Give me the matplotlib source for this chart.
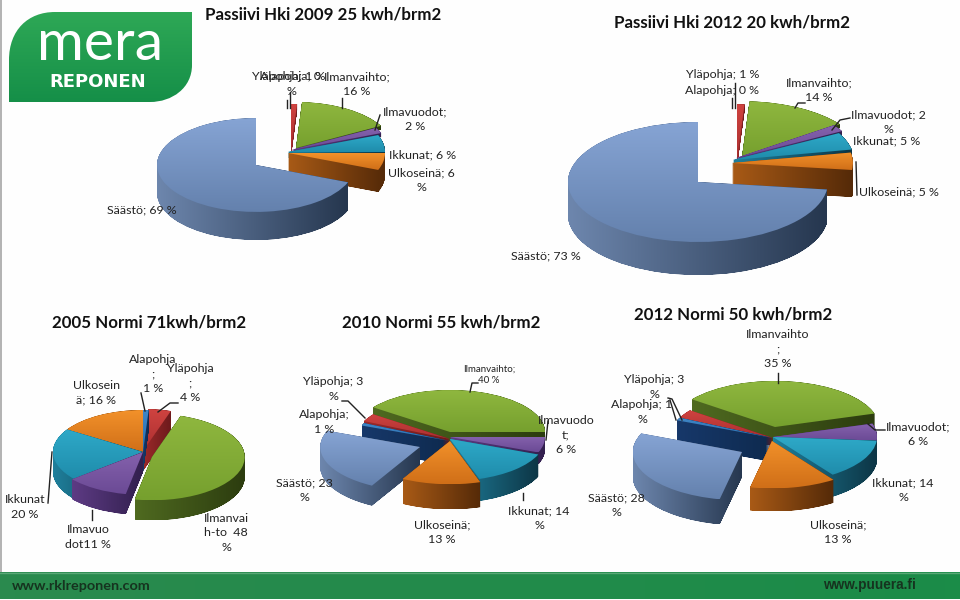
import math
import numpy as np
import matplotlib
matplotlib.use("Agg")
import matplotlib.pyplot as plt
from matplotlib.path import Path
from matplotlib.patches import PathPatch, Rectangle
from matplotlib.colors import to_rgb
from matplotlib.transforms import Affine2D

plt.rcParams['font.family'] = ['Lato', 'DejaVu Sans']

# ---------- data ----------
values_2009 = [1, 0, 16, 2, 6, 6, 69]
values_2012p = [1, 0, 14, 2, 5, 5, 73]
values_2005 = [1, 4, 48, 11, 20, 16]
values_2010 = [3, 1, 40, 6, 14, 13, 23]
values_2012n = [3, 1, 35, 6, 14, 13, 28]
keys_2009 = ['yla', 'ala', 'ilma', 'vuo', 'ikk', 'ulko', 'saa']
keys_2005 = ['ala', 'yla', 'ilma', 'vuo', 'ikk', 'ulko']
keys_2010_order_cw = ['ala', 'yla', 'ilma', 'vuo', 'ikk', 'ulko', 'saa']

# ---------- styles: (top light, top dark, side light, side dark) ----------
STYLE = {
    'saa':  ('#86a4d4', '#6481ad', '#6d86ad', '#26374f'),
    'yla':  ('#cf4340', '#ab2f30', '#9c2a2a', '#6d1a1c'),
    'ala':  ('#3f86c6', '#2d6fb0', '#17386a', '#0e2a4e'),
    'ilma': ('#8fb73f', '#76a02e', '#4f6a20', '#2c3c0f'),
    'vuo':  ('#8562ad', '#6b4a95', '#5d3b84', '#33204f'),
    'ikk':  ('#2ea9c8', '#1f8cab', '#1f7f9b', '#0d3646'),
    'ulko': ('#f2912a', '#d06f18', '#a85a16', '#552a08'),
}

W, H = 960, 600
fig = plt.figure(figsize=(W / 100, H / 100), dpi=100, facecolor='#fefefe')

# ---------- background layer in pixel coordinates ----------
bg = fig.add_axes([0, 0, 1, 1], zorder=0)
bg.set_xlim(0, W); bg.set_ylim(H, 0); bg.axis('off')


def grad(c0, c1, vertical=True, n=64):
    a, b = np.array(to_rgb(c0)), np.array(to_rgb(c1))
    t = np.linspace(0, 1, n)[:, None]
    arr = a * (1 - t) + b * t
    return arr[:, None, :] if vertical else arr[None, :, :]


bg.add_patch(Rectangle((0, 0), 1.6, 572, fc='#b4b4b4', ec='none'))
# footer band
bg.imshow(grad('#2a8a4e', '#1b8c48', vertical=False), extent=[0, W, 599, 572], aspect='auto', zorder=1)
bg.plot([0, W], [572.5, 572.5], color='#5aa877', lw=1, zorder=2)
# logo
verts = [(9, 102), (9, 60), (9, 30), (28, 12), (55, 12), (192, 12), (192, 65),
         (192, 88), (172, 102), (150, 102), (9, 102)]
codes = [Path.MOVETO, Path.LINETO, Path.CURVE4, Path.CURVE4, Path.CURVE4, Path.LINETO,
         Path.LINETO, Path.CURVE4, Path.CURVE4, Path.CURVE4, Path.CLOSEPOLY]
logo = PathPatch(Path(verts, codes), fc='none', ec='none', transform=bg.transData)
bg.add_patch(logo)
im = bg.imshow(grad('#2ea856', '#158f48'), extent=[9, 192, 102, 12], aspect='auto', zorder=2)
im.set_clip_path(logo)
bg.set_xlim(0, W); bg.set_ylim(H, 0)


# ---------- pies ----------
def pie3d(values, keys, first_cw, cx, cy, rx, ry, layout):
    """layout: key -> (wedge x px, wedge y px, scale, depth px)"""
    ax = fig.add_axes([0, 0, 1, 1], zorder=1)
    total = sum(values)
    cum = 0
    items = []
    for i, (v, k) in enumerate(zip(values, keys)):
        mid = first_cw + (cum + v / 2) / total * 360
        cum += v
        if v == 0:
            continue
        wx, wy, sc, dp = layout[k]
        items.append((wy + ry * sc * -math.cos(math.radians(mid)), i, k, wx, wy, sc, dp))
    items.sort()
    z = 2
    for _, i, k, wx, wy, sc, dp in items:
        center = ((wx - cx) / rx, (cy - wy) / ry)
        cols = ['none'] * len(values)
        cols[i] = STYLE[k][0]
        wedges, _t = ax.pie(values, colors=cols, startangle=90 - first_cw, counterclock=False,
                            center=center, radius=sc, wedgeprops={'linewidth': 0}, labels=None)
        for j, w in enumerate(wedges):
            if j != i:
                w.remove()
        top = wedges[i]
        top.set_visible(False)
        p = top.get_path()
        bb = p.get_extents()
        layers = [p.transformed(Affine2D().translate(0, -d / ry)) for d in np.arange(0, dp + 0.25, 0.25)]
        side = Path.make_compound_path(*layers)
        sb = side.get_extents()
        tl, td, sl, sd = STYLE[k]
        s = ax.imshow(grad(sl, sd, vertical=False), extent=[sb.x0, sb.x1, sb.y0, sb.y1],
                      aspect='auto', zorder=z, interpolation='bilinear')
        s.set_clip_path(side, transform=ax.transData)
        t = ax.imshow(grad(tl, td), extent=[bb.x0, bb.x1, bb.y0, bb.y1],
                      aspect='auto', zorder=z + 1, interpolation='bilinear')
        t.set_clip_path(p, transform=ax.transData)
        z += 2
    ax.set_aspect('auto')
    ax.set_xlim(-cx / rx, (W - cx) / rx)
    ax.set_ylim((cy - H) / ry, cy / ry)
    ax.set_position([0, 0, 1, 1])
    ax.axis('off')


pie3d(values_2009, keys_2009, 0, 256, 165, 97, 46, {
    'saa': (256, 165, 1.02, 28), 'ulko': (288, 153, 1, 22), 'ikk': (288, 152, 1, 6),
    'vuo': (291, 150, 1, 4), 'ilma': (296, 148, 1, 4), 'yla': (291, 150, 1, 6), 'ala': (291, 150, 1, 4)})
pie3d(values_2012p, keys_2009, 0, 698, 182, 130, 60, {
    'saa': (698, 182, 1, 33), 'ulko': (732, 163, 0.93, 27), 'ikk': (733, 160, 0.93, 6),
    'vuo': (736, 158, 0.93, 4), 'ilma': (742, 157, 0.93, 4), 'yla': (737, 160, 0.93, 6), 'ala': (737, 160, 0.93, 4)})
pie3d(values_2005, keys_2005, 0, 143, 452, 90, 42, {
    'ala': (143, 452, 1, 20), 'yla': (143, 451, 1, 20), 'ilma': (152, 457, 1.03, 20),
    'vuo': (143, 452, 1.02, 20), 'ikk': (143, 452, 1, 20), 'ulko': (143, 452, 1, 20)})
# 2010 / 2012 start at the blue/red pair and run clockwise
pie3d([values_2010[1], values_2010[0]] + values_2010[2:], keys_2010_order_cw, -68.4, 450, 441, 95, 42, {
    'yla': (450, 439, 1, 8), 'ala': (450, 441, 1, 24), 'ilma': (450, 432, 1, 20),
    'vuo': (450, 437, 1, 12), 'ikk': (450, 439, 1, 22), 'ulko': (450, 441, 1.03, 25), 'saa': (420, 447, 1.05, 20)})
pie3d([values_2012n[1], values_2012n[0]] + values_2012n[2:], keys_2010_order_cw, -67.4, 773, 437, 104, 46, {
    'yla': (773, 438, 1, 8), 'ala': (773, 438, 1, 24), 'ilma': (775, 427, 1, 20),
    'vuo': (773, 437, 1, 12), 'ikk': (773, 437, 1, 22), 'ulko': (772, 441, 1.03, 23), 'saa': (742, 452, 1.05, 25)})

# ---------- text layer ----------
ov = fig.add_axes([0, 0, 1, 1], zorder=5)
ov.set_xlim(0, W); ov.set_ylim(H, 0); ov.axis('off')

TXT = '#222222'
LBL = 8.9


def label(x, y, s, size=LBL):
    ov.text(x, y, s, ha='center', va='center', multialignment='center', fontsize=size,
            color=TXT, linespacing=1.35)


def title(x, y, s):
    ov.text(x, y, s, ha='center', va='center', fontsize=12.2, fontweight='bold', color='#111111')


title(323, 15, 'Passiivi Hki 2009 25 kwh/brm2')
title(732, 22, 'Passiivi Hki 2012 20 kwh/brm2')
title(149, 322, '2005 Normi 71kwh/brm2')
title(441, 322, '2010 Normi 55 kwh/brm2')
title(733, 314, '2012 Normi 50 kwh/brm2')

for x, y, s in [
    (289, 76, 'Yläpohja; 1 %'), (291, 84, 'Alapohja; 0\n%'), (357, 84, 'Ilmanvaihto;\n16 %'),
    (415, 119, 'Ilmavuodot;\n2 %'), (423, 155, 'Ikkunat; 6 %'), (421, 180, 'Ulkoseinä; 6\n%'),
    (142, 210, 'Säästö; 69 %'),
    (723, 75, 'Yläpohja; 1 %'), (722, 91, 'Alapohja; 0 %'), (819, 90, 'Ilmanvaihto;\n14 %'),
    (888, 122, 'Ilmavuodot; 2\n%'), (887, 141, 'Ikkunat; 5 %'), (899, 192, 'Ulkoseinä; 5 %'),
    (546, 256, 'Säästö; 73 %'),
    (153, 374, 'Alapohja\n;\n1 %'), (190, 383, 'Yläpohja\n;\n4 %'), (96, 393, 'Ulkosein\nä; 16 %'),
    (25, 507, 'Ikkunat\n20 %'), (88, 537, 'Ilmavuo\ndot11 %'), (226, 533, 'Ilmanvai\nh-to  48\n%'),
    (333, 389, 'Yläpohja; 3\n%'), (324, 422, 'Alapohja;\n1 %'), (566, 435, 'Ilmavuodo\nt;\n6 %'),
    (304, 490, 'Säästö; 23\n%'), (539, 518, 'Ikkunat; 14\n%'), (442, 532, 'Ulkoseinä;\n13 %'),
    (778, 349, 'Ilmanvaihto\n;\n35 %'), (654, 387, 'Yläpohja; 3\n%'), (642, 412, 'Alapohja; 1\n%'),
    (918, 434, 'Ilmavuodot;\n6 %'), (903, 490, 'Ikkunat; 14\n%'), (838, 532, 'Ulkoseinä;\n13 %'),
    (616, 505, 'Säästö; 28\n%'),
]:
    label(x, y, s)
label(489, 375, 'Ilmanvaihto;\n40 %', size=7.0)

LEADERS = [
    [(287, 100), (287, 108)], [(290, 92), (290, 108)], [(342, 98), (342, 108)], [(380, 115), (375, 130)],
    [(735, 83), (735, 108)], [(732, 98), (732, 108)], [(795, 108), (798, 103), (805, 103)],
    [(850, 118), (840, 120), (832, 130)], [(857, 195), (856, 162)],
    [(141, 393), (145, 411)], [(178, 403), (170, 403), (158, 412)], [(48, 503), (52, 452)], [(92, 510), (92, 520)],
    [(342, 401), (348, 401), (365, 418)], [(470, 392), (472, 383), (478, 383)], [(546, 440), (548, 421)],
    [(523, 493), (523, 500)],
    [(778, 373), (778, 383)], [(668, 398), (672, 399), (682, 420)], [(670, 400), (676, 420)],
    [(885, 430), (875, 430), (868, 424)],
]
for pts in LEADERS:
    xs, ys = zip(*pts)
    ov.plot(xs, ys, color='#222222', lw=1)

ov.text(100, 44, 'mera', ha='center', va='center', fontsize=41, color='white', family='Lato')
ov.text(98, 82, 'REPONEN', ha='center', va='center', fontsize=13, fontweight='bold',
        color='white', family='DejaVu Sans')
ov.text(12, 586, 'www.rklreponen.com', ha='left', va='center', fontsize=10.4, fontweight='bold', color='#16331f')
ov.text(823, 585, 'www.puuera.fi', ha='left', va='center', fontsize=9.8, fontweight='bold',
        color='#16331f', family='Liberation Sans')

fig.savefig('out.png', dpi=100, facecolor=fig.get_facecolor())
